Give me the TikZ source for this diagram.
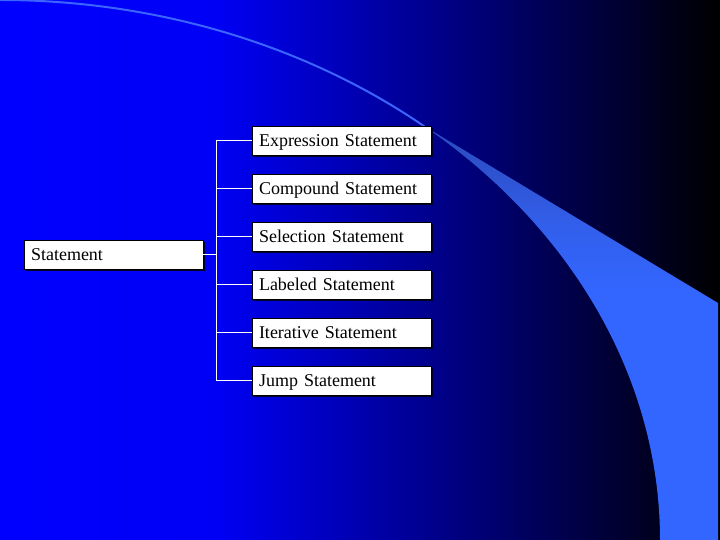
\documentclass[tikz,border=0pt]{standalone}
\usepackage{fontspec}
\setmainfont{Liberation Serif}
\usetikzlibrary{shadows}
\definecolor{bgA}{RGB}{0,0,255}
\definecolor{bgB}{RGB}{0,0,245}
\definecolor{bgK}{RGB}{0,0,0}
\definecolor{arcblue}{RGB}{60,100,255}
\definecolor{wA}{RGB}{42,72,185}
\definecolor{wB}{RGB}{50,95,235}
\definecolor{wC}{RGB}{51,102,255}
\definecolor{shadowc}{RGB}{0,0,40}
\pgfdeclarehorizontalshading{bgshade}{100bp}{color(0bp)=(bgA); color(25bp)=(bgA); color(40bp)=(bgB); color(75bp)=(bgK); color(100bp)=(bgK)}
\pgfdeclareverticalshading{wedgeshade}{100bp}{color(0bp)=(wC); color(25bp)=(wC); color(55bp)=(wC); color(63bp)=(wB); color(75bp)=(wA); color(100bp)=(wA)}
\begin{document}
\begin{tikzpicture}[x=1pt,y=1pt,
  box/.style={fill=white, draw=black, line width=0.8pt,
    drop shadow={shadow xshift=2pt, shadow yshift=-2pt, fill=shadowc, opacity=1},
    minimum height=29pt, text width=165pt, inner xsep=7pt, inner ysep=0pt,
    align=left, text height=15pt, text depth=3pt,
    font=\fontsize{18}{20}\selectfont},
  conn/.style={draw=white, line width=1pt}]
\useasboundingbox (0,0) rectangle (720,540);
\shade[shading=bgshade] (0,0) rectangle (720,540);
\draw[arcblue, line width=2pt] (0,540) arc[start angle=90, end angle=50, x radius=660, y radius=540];
\shade[shading=wedgeshade] (423.3,414.4) -- (718,237) -- (718,0) -- (660,0)
  arc[start angle=0, end angle=50.1, x radius=660, y radius=540] -- cycle;

\node[box] (stmt) at (113.5,285.5) {Statement};
\node[box] (c1) at (341.5,399.5) {Expression Statement};
\node[box] (c2) at (341.5,351) {Compound Statement};
\node[box] (c3) at (341.5,303) {Selection Statement};
\node[box] (c4) at (341.5,255) {Labeled Statement};
\node[box] (c5) at (341.5,207) {Iterative Statement};
\node[box] (c6) at (341.5,159) {Jump Statement};
\coordinate (bus) at (216,285.5);

\draw[conn] (stmt.east) -- (bus);
\draw[conn] (c1.west) -- (c1.west -| bus) -- (c6.west -| bus) -- (c6.west);
\foreach \c in {c2,c3,c4,c5} {\draw[conn] (\c.west) -- (\c.west -| bus);}
\end{tikzpicture}
\end{document}
